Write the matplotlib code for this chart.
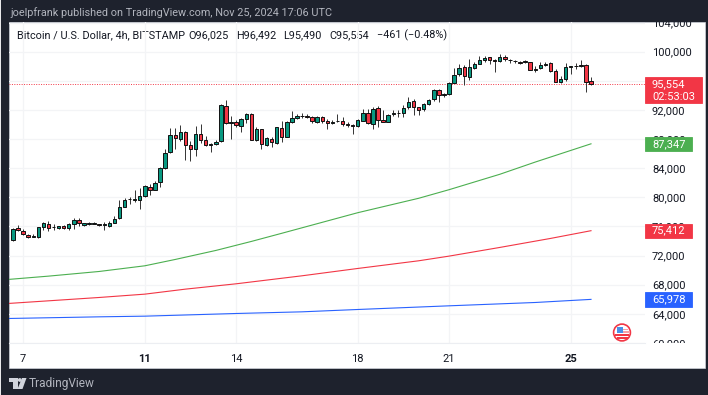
import matplotlib
matplotlib.use('Agg')
import matplotlib.pyplot as plt
import numpy as np
from matplotlib.patches import Rectangle, Circle, Polygon
from matplotlib.transforms import Bbox

plt.rcParams['font.family'] = ['Roboto', 'DejaVu Sans']

# BTC/USD 4h candles
opens = [
    74194, 75758, 75436, 74884, 74562, 74516, 75942, 76356, 75896, 75804,
    76080, 75850, 76310, 76816, 76218, 76264, 76356, 76310, 76218, 76080,
    76494, 77092, 78702, 79714, 79622, 79668, 80220, 81462, 81048, 82106,
    84038, 86154, 88592, 88040, 89006, 87120, 86614, 88730, 87810, 87166,
    87350, 87672, 92594, 90156, 90340, 89834, 90708, 91398, 87856, 89328,
    87166, 88040, 87488, 89558, 88316, 90294, 90892, 91122, 91168, 91076,
    90386, 91030, 90432, 90156, 90432, 90524, 90064, 89926, 89742, 90524,
    91536, 90110, 92226, 90570, 90386, 91398, 91536, 91536, 92364, 93238,
    92364, 92088, 92778, 93468, 94710, 94020, 94158, 95768, 96872, 97838,
    96504, 97792, 98344, 98804, 99218, 98804, 98666, 99264, 98896, 98758,
    98574, 98574, 98528, 97470, 97700, 98160, 98436, 97286, 95906, 96182,
    97884, 97976, 98022, 98160, 96025]
highs = [
    75804, 76218, 75666, 74976, 74976, 75988, 76586, 76770, 76264, 76126,
    76172, 76448, 77092, 77138, 76494, 76540, 76540, 76356, 76586, 76678,
    77460, 79622, 79944, 79990, 80992, 81278, 81738, 81830, 82244, 84176,
    86660, 89512, 89466, 89880, 89052, 87764, 89788, 90110, 88454, 87488,
    87856, 92778, 93376, 91122, 90570, 90846, 91628, 91628, 89696, 89420,
    88316, 88224, 89650, 90524, 90478, 91812, 91444, 91628, 91490, 91168,
    91122, 91122, 90708, 90616, 91398, 90984, 90340, 90018, 90708, 92134,
    92088, 92456, 92548, 91996, 91444, 91996, 91996, 92640, 93836, 93560,
    92456, 92916, 93560, 94848, 94848, 94388, 95814, 97746, 98252, 98206,
    98988, 98528, 99356, 99356, 99264, 98988, 99724, 99586, 99034, 98896,
    98758, 98850, 98620, 98068, 98528, 98620, 98528, 97608, 96596, 98436,
    98068, 98436, 98896, 98344, 96492]
lows = [
    74056, 75436, 74884, 74378, 74516, 74424, 75528, 75344, 75528, 75620,
    75712, 75574, 75712, 76080, 76080, 76172, 76264, 76126, 75482, 75988,
    76402, 77000, 78610, 79070, 79346, 78426, 80082, 80358, 80956, 81416,
    83900, 86062, 86614, 87764, 85096, 85004, 85694, 87396, 87028, 86200,
    87120, 87580, 90018, 87948, 89604, 89006, 90248, 87810, 87764, 86568,
    87074, 86936, 87304, 87626, 88224, 90202, 90800, 90892, 90938, 90248,
    90202, 90248, 89328, 90064, 90294, 89834, 89696, 88638, 89604, 90432,
    90064, 89328, 89696, 90294, 90294, 91168, 91076, 91076, 92088, 91306,
    91352, 91904, 92640, 93284, 93146, 93836, 94020, 95676, 96688, 95492,
    96136, 97608, 98252, 98620, 98252, 97148, 98528, 98712, 98390, 98436,
    98298, 98436, 97424, 97148, 97608, 98068, 97240, 95814, 95768, 96044,
    96964, 97608, 97884, 94526, 95490]
closes = [
    75666, 75528, 74976, 74608, 74654, 75896, 76402, 75804, 75988, 76080,
    75850, 76356, 76816, 76402, 76402, 76402, 76448, 76218, 76310, 76494,
    77046, 78610, 79668, 79806, 79714, 80174, 81508, 81048, 82014, 84038,
    86108, 88592, 88086, 88960, 87166, 86568, 88730, 87902, 87120, 87304,
    87626, 92640, 90248, 90340, 89972, 90708, 91444, 87856, 89328, 87258,
    88086, 87534, 89604, 88316, 90294, 90846, 91214, 91214, 91076, 90432,
    91030, 90432, 90156, 90340, 90524, 90110, 89972, 89834, 90570, 91582,
    90156, 92180, 90570, 90386, 91306, 91536, 91628, 92318, 93146, 92364,
    92042, 92778, 93422, 94710, 94020, 94158, 95722, 96826, 97792, 96596,
    97838, 98344, 98896, 99172, 98896, 98712, 99310, 98942, 98804, 98666,
    98482, 98666, 97516, 97608, 98160, 98298, 97332, 95906, 96228, 97838,
    97976, 98068, 98160, 95860, 95554]

# moving averages, read at a few candles along each line
ma_green_idx = [-1, 7, 17, 26, 32, 40, 47, 53, 68, 80, 86, 96, 103, 114]
ma_green = [68713, 69171, 69812, 70591, 71462, 72699, 73936, 75055, 77885,
            79863, 81044, 83159, 84840, 87347]
ma_red_idx = [-1, 7, 17, 26, 34, 44, 57, 68, 80, 86, 96, 106, 114]
ma_red = [65414, 65780, 66239, 66697, 67384, 68117, 69217, 70225, 71278,
          71920, 73111, 74348, 75412]
ma_blue_idx = [-1, 17, 26, 44, 57, 68, 86, 103, 114]
ma_blue = [63352, 63581, 63673, 64039, 64268, 64589, 65093, 65551, 65978]

price_ticks = list(range(60000, 108000, 4000))
time_idx = [2, 26, 44, 68, 86, 110]
time_labels = ['7', '11', '14', '18', '21', '25']
time_bold = ['11', '25']

DARK = '#1e222d'
GREEN = '#089981'
RED = '#f23645'
MA_GREEN = '#4caf50'
MA_BLUE = '#2962ff'
TEXT = '#131722'
GRID = '#f3f4f6'

W, H = 708, 395
fig = plt.figure(figsize=(W / 100, H / 100), dpi=100, facecolor=DARK)

# --- frame, header, logo (pixel coordinates) ---
bg = fig.add_axes([0, 0, 1, 1])
bg.set_xlim(0, W)
bg.set_ylim(H, 0)
bg.axis('off')
bg.add_patch(Rectangle((9.3, 22), 695.7, 346, fc='white', ec='#d1d4dc', lw=0.5))
bg.add_patch(Rectangle((0, 0), 1, H, fc='#e8e8ea', ec='none'))

bg.text(10, 12.5, 'joelpfrank published on TradingView.com, Nov 25, 2024 17:06 UTC',
        color='#b2b5be', fontsize=7.8, va='center')
bg.text(17, 35, 'Bitcoin / U.S. Dollar, 4h, BITSTAMP', color=TEXT, fontsize=7.85, va='center')
for x, s in zip([188, 236, 283, 329, 377],
                ['O96,025', 'H96,492', 'L95,490', 'C95,554', '\u2212461 (\u22120.48%)']):
    bg.text(x, 35, s, color=TEXT, fontsize=7.85, va='center')

bg.add_patch(Polygon([(9, 378), (17.5, 378), (17.5, 389), (13, 389), (13, 382), (9, 382)],
                     fc='#d1d4dc', ec='none'))
bg.add_patch(Circle((19.8, 380), 1.9, fc='#d1d4dc', ec='none'))
bg.add_patch(Polygon([(22, 378), (26.5, 378), (22.5, 389), (17.5, 389)], fc='#d1d4dc', ec='none'))
bg.text(29, 383.5, 'TradingView', color='#b2b5be', fontsize=8.6, va='center')

# flag icon
bg.add_patch(Circle((622, 332.5), 8.4, fc='white', ec=RED, lw=1.2))
bg.add_patch(Rectangle((615, 334.2), 14, 2.2, fc=RED, ec='none'))
bg.add_patch(Rectangle((616.5, 337.4), 11, 2, fc=RED, ec='none'))
bg.add_patch(Rectangle((616.5, 327), 6, 6.2, fc='#4a90e8', ec='none'))
bg.add_patch(Rectangle((622.5, 328.5), 5.5, 1.5, fc='#f7a0a8', ec='none'))
bg.add_patch(Rectangle((622.5, 331.3), 6, 1.5, fc='#f7a0a8', ec='none'))

# --- price pane ---
left, right, top, bottom = 9.3, 645, 22, 343
ax = fig.add_axes([left / W, 1 - bottom / H, (right - left) / W, (bottom - top) / H])
ax.patch.set_alpha(0)
ax.set_xlim(-0.73, 124.65)
ax.set_ylim(59986, 104080)
ax.set_axisbelow(True)
ax.grid(True, color=GRID, lw=0.9)
for s in ['top', 'left', 'right']:
    ax.spines[s].set_visible(False)
ax.spines['bottom'].set_color('#eceef2')
ax.spines['bottom'].set_linewidth(0.8)

ax.yaxis.tick_right()
ax.set_yticks(price_ticks)
ax.set_yticklabels([f'{p:,}' for p in price_ticks])
ax.tick_params(axis='y', length=0, pad=5, labelsize=8, labelcolor=TEXT)
ax.set_xticks(time_idx)
ax.set_xticklabels(time_labels)
ax.tick_params(axis='x', length=0, pad=8, labelsize=8, labelcolor=TEXT)
for lbl in ax.get_xticklabels():
    if lbl.get_text() in time_bold:
        lbl.set_fontweight('bold')

# 104,000 and 60,000 are cut by the edges of the pane
clip = Bbox.from_extents(right, H - bottom, W, H - top)
for lbl in ax.get_yticklabels():
    lbl.set_clip_on(True)
    lbl.set_clip_box(clip)

idx = np.arange(len(closes))
o = np.array(opens)
c = np.array(closes)
up = c >= o
ax.vlines(idx, lows, highs, color='#333333', lw=0.7, zorder=3)
ax.bar(idx, np.abs(c - o), bottom=np.minimum(o, c), width=0.68,
       color=np.where(up, GREEN, RED), edgecolor='#111111', linewidth=0.7, zorder=4)

ax.plot(ma_green_idx, ma_green, color=MA_GREEN, lw=0.8, zorder=2)
ax.plot(ma_red_idx, ma_red, color=RED, lw=0.8, zorder=2)
ax.plot(ma_blue_idx, ma_blue, color=MA_BLUE, lw=0.8, zorder=2)

ax.axhline(closes[-1], color=RED, lw=0.7, ls=(0, (1, 1.5)), zorder=2)

# --- tags on the price scale ---
trans = ax.get_yaxis_transform()
px_x = 1 / (right - left)
px_y = (104080 - 59986) / (bottom - top)


def price_tag(price, label, color, width=47, height=14.4):
    ax.add_patch(Rectangle((1, price - height / 2 * px_y), width * px_x, height * px_y,
                           transform=trans, fc=color, ec=color, lw=0.6, clip_on=False, zorder=6))
    ax.text(1 + 7 * px_x, price, label, transform=trans, color='white',
            fontsize=8, ha='left', va='center', clip_on=False, zorder=7)


price_tag(ma_green[-1], f'{ma_green[-1]:,}', MA_GREEN)
price_tag(ma_red[-1], f'{ma_red[-1]:,}', RED)
price_tag(ma_blue[-1], f'{ma_blue[-1]:,}', MA_BLUE)

# last price tag is taller and holds the countdown
ax.add_patch(Rectangle((1, closes[-1] - 19.3 * px_y), 57 * px_x, 26.4 * px_y, transform=trans,
                       fc=RED, ec=RED, lw=0.6, clip_on=False, zorder=6))
ax.text(1 + 7 * px_x, closes[-1], f'{closes[-1]:,}', transform=trans, color='white',
        fontsize=8, ha='left', va='center', clip_on=False, zorder=7)
ax.text(1 + 7 * px_x, closes[-1] - 12.5 * px_y, '02:53:03', transform=trans, color='white',
        fontsize=8, ha='left', va='center', clip_on=False, zorder=7)

fig.savefig('out.png', dpi=100, facecolor=DARK)
